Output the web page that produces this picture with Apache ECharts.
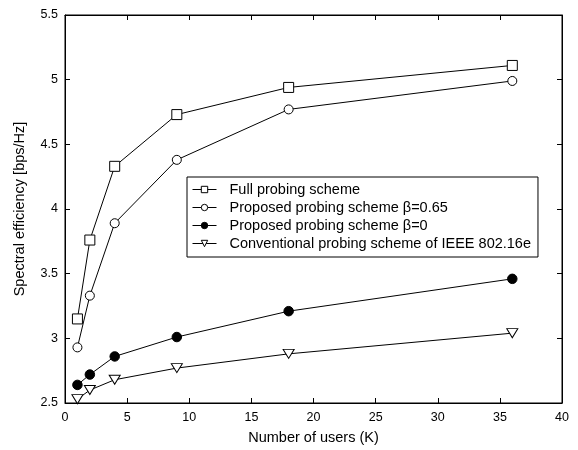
<!DOCTYPE html>
<html><head><meta charset="utf-8">
<script src="https://cdn.jsdelivr.net/npm/echarts@6/dist/echarts.min.js"></script>
<style>html,body{margin:0;padding:0;background:#fff}#c{width:578px;height:450px}</style>
</head><body><div id="c"></div>
<script>
var users = [1, 2, 4, 9, 18, 36];
var fullProbing = [3.15, 3.76, 4.33, 4.73, 4.94, 5.11];
var proposed065 = [2.93, 3.33, 3.89, 4.38, 4.77, 4.99];
var proposed0 = [2.64, 2.72, 2.86, 3.01, 3.21, 3.46];
var conventional = [2.53, 2.60, 2.68, 2.77, 2.88, 3.04];
var seriesNames = ['Full probing scheme', 'Proposed probing scheme \u03B2=0.65', 'Proposed probing scheme \u03B2=0', 'Conventional probing scheme of IEEE 802.16e'];

function pairs(v){ return users.map(function(u,i){ return [u, v[i]]; }); }
var font = 'Liberation Sans, Arial, sans-serif';
function mk(name, data, symbol, size, fill){
  return {
    name: name, type: 'line', data: pairs(data), symbol: symbol, symbolSize: size,
    showAllSymbol: true,
    lineStyle: {color: '#000', width: 1},
    itemStyle: {color: fill, borderColor: '#000', borderWidth: 1},
    emphasis: {disabled: true}, animation: false, z: 3
  };
}
var chart = echarts.init(document.getElementById('c'));
var tickIn = {show: true, inside: true, length: 5, lineStyle: {color: '#000'}};
chart.setOption({
  backgroundColor: '#fff',
  animation: false,
  grid: {left: 65, top: 15, right: 16, bottom: 43, show: true, borderColor: '#000', borderWidth: 1},
  legend: {
    orient: 'vertical', left: 187, top: 177, padding: [5, 7, 6, 5],
    borderColor: '#000', borderWidth: 1, backgroundColor: '#fff',
    itemWidth: 24, itemHeight: 8, itemGap: 3,
    itemStyle: {borderWidth: 1}, lineStyle: {width: 1},
    textStyle: {fontFamily: font, fontSize: 14.5, color: '#000', padding: [0, 0, 0, 8]},
    data: seriesNames
  },
  xAxis: [{
    type: 'value', min: 0, max: 40, interval: 5,
    name: 'Number of users (K)', nameLocation: 'middle', nameGap: 27,
    nameTextStyle: {fontFamily: font, fontSize: 14.5, color: '#000'},
    axisLine: {show: true, onZero: false, lineStyle: {color: '#000'}},
    axisTick: tickIn, splitLine: {show: false},
    axisLabel: {fontFamily: font, fontSize: 12.5, color: '#000', margin: 8}
  }, {
    type: 'value', min: 0, max: 40, interval: 5, position: 'top',
    axisLine: {show: true, onZero: false, lineStyle: {color: '#000'}},
    axisTick: tickIn, axisLabel: {show: false}, splitLine: {show: false}
  }],
  yAxis: [{
    type: 'value', min: 2.5, max: 5.5, interval: 0.5,
    name: 'Spectral efficiency [bps/Hz]', nameLocation: 'middle', nameGap: 38,
    nameTextStyle: {fontFamily: font, fontSize: 14.5, color: '#000'},
    axisLine: {show: true, onZero: false, lineStyle: {color: '#000'}},
    axisTick: tickIn, splitLine: {show: false},
    axisLabel: {fontFamily: font, fontSize: 12.5, color: '#000', margin: 7}
  }, {
    type: 'value', min: 2.5, max: 5.5, interval: 0.5, position: 'right',
    axisLine: {show: true, onZero: false, lineStyle: {color: '#000'}},
    axisTick: tickIn, axisLabel: {show: false}, splitLine: {show: false}
  }],
  series: [
    mk(seriesNames[0], fullProbing, 'rect', 10, '#fff'),
    mk(seriesNames[1], proposed065, 'circle', 9, '#fff'),
    mk(seriesNames[2], proposed0, 'circle', 9.5, '#000'),
    mk(seriesNames[3], conventional, 'path://M0,0 L10,0 L5,9 Z', [11, 9], '#fff')
  ]
});
</script></body></html>
